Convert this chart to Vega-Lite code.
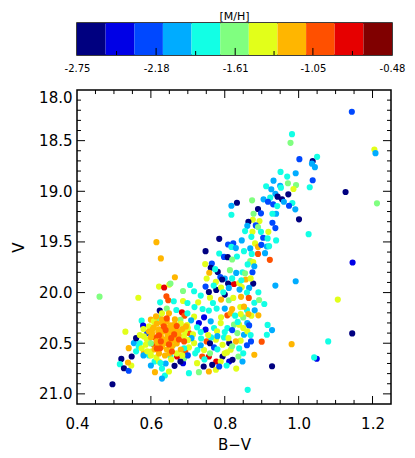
{
"$schema":"https://vega.github.io/schema/vega-lite/v6.json",
"padding":{"left":10,"top":10,"right":5,"bottom":5},
"config":{"view":{"stroke":"black","strokeWidth":1.5},"font":"DejaVu Sans","axis":{"labelFont":"DejaVu Sans","titleFont":"DejaVu Sans","labelFontSize":15,"titleFontSize":15,"titleFontWeight":"normal","labelColor":"black","titleColor":"black","tickColor":"black","tickWidth":1,"grid":false,"domain":false,"labelFlush":false}},
"spacing":14,
"datasets":{
"bar":[{"lo":-2.75,"hi":-2.544,"mh":-2.65},{"lo":-2.544,"hi":-2.337,"mh":-2.44},{"lo":-2.337,"hi":-2.131,"mh":-2.23},{"lo":-2.131,"hi":-1.925,"mh":-2.03},{"lo":-1.925,"hi":-1.718,"mh":-1.82},{"lo":-1.718,"hi":-1.512,"mh":-1.62},{"lo":-1.512,"hi":-1.305,"mh":-1.41},{"lo":-1.305,"hi":-1.099,"mh":-1.2},{"lo":-1.099,"hi":-0.893,"mh":-1},{"lo":-0.893,"hi":-0.686,"mh":-0.79},{"lo":-0.686,"hi":-0.48,"mh":-0.58}],
"cmaj":[{"t":-2.18},{"t":-1.61},{"t":-1.05}],
"cmin":[{"t":-2.465},{"t":-1.895},{"t":-1.33},{"t":-0.765}],
"xmaj":[{"t":0.6},{"t":0.8},{"t":1.0},{"t":1.2}],
"xmin":[{"t":0.45},{"t":0.5},{"t":0.55},{"t":0.65},{"t":0.7},{"t":0.75},{"t":0.85},{"t":0.9},{"t":0.95},{"t":1.05},{"t":1.1},{"t":1.15}],
"ymaj":[{"t":18.5},{"t":19},{"t":19.5},{"t":20},{"t":20.5},{"t":21}],
"ymin":[{"t":18.1},{"t":18.2},{"t":18.3},{"t":18.4},{"t":18.6},{"t":18.7},{"t":18.8},{"t":18.9},{"t":19.1},{"t":19.2},{"t":19.3},{"t":19.4},{"t":19.6},{"t":19.7},{"t":19.8},{"t":19.9},{"t":20.1},{"t":20.2},{"t":20.3},{"t":20.4},{"t":20.6},{"t":20.7},{"t":20.8},{"t":20.9}],
"pts":[
{"bv":1.144,"V":18.215,"mh":-2.23},{"bv":0.982,"V":18.436,"mh":-1.82},{"bv":0.978,"V":18.522,"mh":-1.62},{"bv":1.205,"V":18.588,"mh":-1.41},{"bv":1.208,"V":18.624,"mh":-2.03},{"bv":1.002,"V":18.683,"mh":-2.23},{"bv":1.038,"V":18.703,"mh":-2.65},{"bv":1.05,"V":18.66,"mh":-1.82},{"bv":1.036,"V":18.727,"mh":-2.03},{"bv":1.044,"V":18.762,"mh":-2.03},
{"bv":0.951,"V":18.809,"mh":-1.82},{"bv":0.992,"V":18.822,"mh":-2.03},{"bv":0.969,"V":18.855,"mh":-1.82},{"bv":0.932,"V":18.895,"mh":-2.03},{"bv":1.038,"V":18.891,"mh":-2.23},{"bv":0.971,"V":18.921,"mh":-1.62},{"bv":0.993,"V":18.938,"mh":-1.62},{"bv":0.95,"V":18.945,"mh":-2.03},{"bv":0.912,"V":18.95,"mh":-1.82},{"bv":1.03,"V":18.96,"mh":-1.82},
{"bv":0.986,"V":18.977,"mh":-1.41},{"bv":0.926,"V":18.98,"mh":-2.03},{"bv":0.952,"V":18.964,"mh":-1.82},{"bv":1.127,"V":19.007,"mh":-2.65},{"bv":0.972,"V":19.03,"mh":-2.65},{"bv":0.937,"V":19.024,"mh":-2.03},{"bv":0.923,"V":19.063,"mh":-1.82},{"bv":0.943,"V":19.053,"mh":-2.65},{"bv":0.905,"V":19.079,"mh":-2.03},{"bv":0.955,"V":19.079,"mh":-2.65},
{"bv":0.874,"V":19.089,"mh":-1.62},{"bv":0.931,"V":19.129,"mh":-2.23},{"bv":0.917,"V":19.103,"mh":-2.23},{"bv":0.96,"V":19.103,"mh":-2.03},{"bv":0.983,"V":19.116,"mh":-1.82},{"bv":0.974,"V":19.143,"mh":-2.23},{"bv":0.942,"V":19.146,"mh":-1.82},{"bv":0.833,"V":19.113,"mh":-2.65},{"bv":0.818,"V":19.143,"mh":-2.03},{"bv":1.212,"V":19.119,"mh":-1.62},
{"bv":0.89,"V":19.175,"mh":-2.65},{"bv":0.898,"V":19.218,"mh":-2.23},{"bv":0.878,"V":19.222,"mh":-1.62},{"bv":0.991,"V":19.178,"mh":-2.03},{"bv":0.939,"V":19.222,"mh":-2.03},{"bv":0.929,"V":19.222,"mh":-1.82},{"bv":0.818,"V":19.232,"mh":-1.82},{"bv":1.001,"V":19.277,"mh":-2.65},{"bv":0.876,"V":19.281,"mh":-1.41},{"bv":0.894,"V":19.294,"mh":-1.41},
{"bv":0.864,"V":19.301,"mh":-2.65},{"bv":0.929,"V":19.311,"mh":-2.23},{"bv":0.884,"V":19.337,"mh":-2.23},{"bv":0.89,"V":19.353,"mh":-1.62},{"bv":0.861,"V":19.341,"mh":-2.03},{"bv":0.937,"V":19.363,"mh":-2.23},{"bv":0.855,"V":19.393,"mh":-1.82},{"bv":0.875,"V":19.4,"mh":-1.41},{"bv":0.898,"V":19.4,"mh":-1.82},{"bv":0.918,"V":19.4,"mh":-1.41},
{"bv":1.027,"V":19.423,"mh":-1.82},{"bv":0.785,"V":19.469,"mh":-2.65},{"bv":0.872,"V":19.45,"mh":-1.82},{"bv":0.904,"V":19.459,"mh":-2.23},{"bv":0.916,"V":19.465,"mh":-1.82},{"bv":0.939,"V":19.485,"mh":-1.82},{"bv":0.846,"V":19.485,"mh":-2.03},{"bv":0.615,"V":19.502,"mh":-1.2},{"bv":0.809,"V":19.525,"mh":-2.23},{"bv":0.823,"V":19.515,"mh":-2.23},
{"bv":0.818,"V":19.549,"mh":-1.82},{"bv":0.83,"V":19.561,"mh":-2.03},{"bv":0.882,"V":19.515,"mh":-1.41},{"bv":0.89,"V":19.549,"mh":-1.2},{"bv":0.869,"V":19.564,"mh":-2.03},{"bv":0.899,"V":19.529,"mh":-2.23},{"bv":0.914,"V":19.545,"mh":-2.03},{"bv":0.748,"V":19.591,"mh":-2.65},{"bv":0.785,"V":19.614,"mh":-1.82},{"bv":0.852,"V":19.591,"mh":-1.82},
{"bv":0.873,"V":19.618,"mh":-1.82},{"bv":0.89,"V":19.618,"mh":-1},{"bv":0.909,"V":19.611,"mh":-2.03},{"bv":0.798,"V":19.648,"mh":-2.23},{"bv":0.808,"V":19.65,"mh":-2.65},{"bv":0.833,"V":19.644,"mh":-1.82},{"bv":0.82,"V":19.673,"mh":-1.62},{"bv":0.627,"V":19.663,"mh":-1.2},{"bv":0.922,"V":19.677,"mh":-1},
{"bv":0.747,"V":19.719,"mh":-1.41},{"bv":0.765,"V":19.713,"mh":-2.23},{"bv":0.762,"V":19.756,"mh":-2.65},{"bv":0.758,"V":19.804,"mh":-1.2},{"bv":0.781,"V":19.796,"mh":-2.65},{"bv":0.814,"V":19.779,"mh":-1.62},{"bv":0.831,"V":19.806,"mh":-2.03},{"bv":0.788,"V":19.846,"mh":-2.23},{"bv":0.776,"V":19.895,"mh":-1.41},{"bv":0.751,"V":19.861,"mh":-1.41},
{"bv":0.8,"V":19.861,"mh":-2.03},{"bv":0.825,"V":19.915,"mh":-0.79},{"bv":0.809,"V":19.911,"mh":-2.65},{"bv":0.839,"V":19.905,"mh":-1.41},{"bv":0.857,"V":19.871,"mh":-1.2},{"bv":0.877,"V":19.911,"mh":-2.65},{"bv":0.848,"V":19.799,"mh":-1.82},{"bv":0.665,"V":19.849,"mh":-1.2},{"bv":0.622,"V":19.941,"mh":-1.41},{"bv":0.636,"V":19.95,"mh":-0.79},
{"bv":0.65,"V":19.921,"mh":-1.41},{"bv":0.706,"V":19.925,"mh":-1.82},{"bv":0.748,"V":19.941,"mh":-2.23},{"bv":0.777,"V":19.974,"mh":-2.65},{"bv":0.811,"V":19.954,"mh":-2.03},{"bv":0.846,"V":19.945,"mh":-1.41},{"bv":0.866,"V":19.954,"mh":-2.03},{"bv":0.937,"V":19.931,"mh":-2.03},{"bv":0.992,"V":19.888,"mh":-2.03},{"bv":0.869,"V":19.69,"mh":-1.62},
{"bv":0.877,"V":19.7,"mh":-1.41},{"bv":0.862,"V":19.722,"mh":-1.82},{"bv":0.88,"V":19.74,"mh":-2.03},{"bv":0.875,"V":19.799,"mh":-2.23},{"bv":0.855,"V":19.809,"mh":-1.62},{"bv":0.793,"V":19.871,"mh":-2.65},{"bv":0.845,"V":19.878,"mh":-1.82},{"bv":0.92,"V":19.542,"mh":-1.82},{"bv":0.653,"V":19.911,"mh":-1.62},{"bv":1.146,"V":19.703,"mh":-2.44},
{"bv":1.106,"V":20.069,"mh":-1.41},{"bv":1.145,"V":20.403,"mh":-2.65},{"bv":1.08,"V":20.482,"mh":-1.82},{"bv":1.049,"V":20.653,"mh":-2.44},{"bv":1.042,"V":20.64,"mh":-1.82},{"bv":0.774,"V":19.769,"mh":-1.82},
{"bv":0.77,"V":19.93,"mh":-1.82},{"bv":0.79,"V":19.95,"mh":-1.41},{"bv":0.82,"V":19.86,"mh":-1.82},{"bv":0.84,"V":19.97,"mh":-2.03},{"bv":0.86,"V":20.0,"mh":-1.82},{"bv":0.8,"V":20.02,"mh":-2.65},{"bv":0.76,"V":20.05,"mh":-1.41},{"bv":0.87,"V":19.86,"mh":-1.41},{"bv":0.88,"V":20.1,"mh":-1.82},{"bv":0.735,"V":20.03,"mh":-1.82},
{"bv":0.687,"V":19.984,"mh":-1.62},{"bv":0.717,"V":19.987,"mh":-1.82},{"bv":0.757,"V":19.994,"mh":-2.65},{"bv":0.796,"V":19.997,"mh":-1.82},{"bv":0.891,"V":19.997,"mh":-1.82},{"bv":0.461,"V":20.04,"mh":-1.62},{"bv":0.566,"V":20.051,"mh":-1.41},{"bv":0.647,"V":20.076,"mh":-1},{"bv":0.625,"V":20.096,"mh":-1.82},{"bv":0.662,"V":20.086,"mh":-1.82},
{"bv":0.687,"V":20.083,"mh":-1.41},{"bv":0.699,"V":20.103,"mh":-1.82},{"bv":0.728,"V":20.096,"mh":-1.41},{"bv":0.768,"V":20.103,"mh":-1.82},{"bv":0.79,"V":20.069,"mh":-1.2},{"bv":0.811,"V":20.076,"mh":-1.62},{"bv":0.823,"V":20.053,"mh":-1.41},{"bv":0.844,"V":20.042,"mh":-1.2},{"bv":0.865,"V":20.053,"mh":-1},{"bv":0.893,"V":20.073,"mh":-1.62},
{"bv":0.907,"V":20.113,"mh":-1.82},{"bv":0.642,"V":20.037,"mh":-1},{"bv":0.643,"V":20.158,"mh":-1.62},{"bv":0.624,"V":20.178,"mh":-2.65},{"bv":0.669,"V":20.172,"mh":-1.82},{"bv":0.684,"V":20.195,"mh":-0.79},{"bv":0.691,"V":20.228,"mh":-1},{"bv":0.718,"V":20.143,"mh":-1.82},{"bv":0.74,"V":20.162,"mh":-1.82},{"bv":0.757,"V":20.178,"mh":-1.82},
{"bv":0.778,"V":20.158,"mh":-1.82},{"bv":0.8,"V":20.158,"mh":-2.03},{"bv":0.82,"V":20.162,"mh":-1.2},{"bv":0.842,"V":20.143,"mh":-1.41},{"bv":0.86,"V":20.172,"mh":-1.82},{"bv":0.881,"V":20.175,"mh":-2.03},{"bv":0.891,"V":20.225,"mh":-1.2},{"bv":0.872,"V":20.228,"mh":-1.41},{"bv":0.85,"V":20.245,"mh":-1.62},{"bv":0.852,"V":20.139,"mh":-1.2},
{"bv":0.864,"V":20.212,"mh":-1.2},{"bv":0.575,"V":20.277,"mh":-1.82},{"bv":0.579,"V":20.327,"mh":-2.44},{"bv":0.6,"V":20.267,"mh":-1.2},{"bv":0.807,"V":20.225,"mh":-1},{"bv":0.73,"V":20.301,"mh":-2.44},{"bv":0.703,"V":20.4,"mh":-1},{"bv":0.531,"V":20.386,"mh":-1.41},{"bv":0.916,"V":20.319,"mh":-1.82},{"bv":0.928,"V":20.37,"mh":-2.03},
{"bv":0.861,"V":20.301,"mh":-2.03},{"bv":0.866,"V":20.324,"mh":-2.23},{"bv":0.914,"V":20.416,"mh":-1.82},{"bv":0.852,"V":20.416,"mh":-2.03},{"bv":0.861,"V":20.383,"mh":-1.41},{"bv":0.843,"V":20.475,"mh":-1.41},{"bv":0.83,"V":20.482,"mh":-1.2},{"bv":0.871,"V":20.482,"mh":-2.23},{"bv":0.9,"V":20.485,"mh":-1},{"bv":0.981,"V":20.509,"mh":-1.2},
{"bv":0.816,"V":20.564,"mh":-1.41},{"bv":0.88,"V":20.614,"mh":-1.2},{"bv":0.837,"V":20.631,"mh":-1.62},{"bv":0.848,"V":20.68,"mh":-2.03},{"bv":0.812,"V":20.68,"mh":-2.44},{"bv":0.928,"V":20.727,"mh":-2.65},{"bv":0.862,"V":20.96,"mh":-1.82},{"bv":0.554,"V":20.499,"mh":-2.03},{"bv":0.567,"V":20.532,"mh":-1.82},{"bv":0.54,"V":20.549,"mh":-1.2},
{"bv":0.581,"V":20.598,"mh":-1.2},{"bv":0.548,"V":20.631,"mh":-2.65},{"bv":0.52,"V":20.655,"mh":-2.65},{"bv":0.516,"V":20.707,"mh":-1.82},{"bv":0.527,"V":20.747,"mh":-2.65},{"bv":0.54,"V":20.772,"mh":-2.23},{"bv":0.547,"V":20.72,"mh":-1.41},{"bv":0.538,"V":20.69,"mh":-1.2},{"bv":0.496,"V":20.905,"mh":-2.65},{"bv":0.611,"V":20.786,"mh":-1.2},
{"bv":0.638,"V":20.819,"mh":-1.82},{"bv":0.649,"V":20.779,"mh":-1.41},{"bv":0.664,"V":20.723,"mh":-2.65},{"bv":0.687,"V":20.697,"mh":-2.44},{"bv":0.703,"V":20.796,"mh":-1.82},{"bv":0.73,"V":20.786,"mh":-1.62},{"bv":0.757,"V":20.779,"mh":-1.2},{"bv":0.777,"V":20.68,"mh":-0.79},{"bv":0.757,"V":20.631,"mh":-0.79},{"bv":0.739,"V":20.631,"mh":-1},
{"bv":0.725,"V":20.697,"mh":-1.41},{"bv":0.743,"V":20.73,"mh":-2.65},{"bv":0.693,"V":20.581,"mh":-1},{"bv":0.671,"V":20.631,"mh":-0.79},{"bv":0.653,"V":20.631,"mh":-1.82},{"bv":0.69,"V":20.648,"mh":-1.62},{"bv":0.751,"V":20.482,"mh":-1},{"bv":0.717,"V":20.499,"mh":-1.41},{"bv":0.611,"V":20.443,"mh":-1},{"bv":0.608,"V":20.515,"mh":-1},
{"bv":0.594,"V":20.482,"mh":-1.82},{"bv":0.586,"V":20.515,"mh":-1.41},{"bv":0.63,"V":20.849,"mh":-2.03},{"bv":0.726,"V":20.568,"mh":-1.82},{"bv":0.744,"V":20.568,"mh":-1.41},{"bv":0.794,"V":20.631,"mh":-2.65},{"bv":0.821,"V":20.663,"mh":-2.65},{"bv":0.776,"V":20.465,"mh":-1.41},{"bv":0.794,"V":20.515,"mh":-1.41},{"bv":0.812,"V":20.499,"mh":-2.65},
{"bv":0.748,"V":20.366,"mh":-2.44},{"bv":0.762,"V":20.284,"mh":-2.03},{"bv":0.771,"V":20.35,"mh":-1.82},{"bv":0.789,"V":20.301,"mh":-1.41},{"bv":0.807,"V":20.35,"mh":-1.82},{"bv":0.825,"V":20.317,"mh":-1.62},{"bv":0.816,"V":20.205,"mh":-1.2},{"bv":0.699,"V":20.205,"mh":-1.82},{"bv":0.717,"V":20.238,"mh":-1.41},{"bv":0.776,"V":20.762,"mh":-1.41},
{"bv":0.789,"V":20.68,"mh":-1.41},{"bv":0.766,"V":20.713,"mh":-2.65},{"bv":0.843,"V":20.212,"mh":-1.41},{"bv":0.828,"V":20.228,"mh":-1.82},{"bv":0.839,"V":20.317,"mh":-1.41},{"bv":0.834,"V":20.4,"mh":-1.62},{"bv":0.709,"V":20.274,"mh":-2.03},{"bv":0.725,"V":20.343,"mh":-1.82},{"bv":0.744,"V":20.244,"mh":-2.44},{"bv":0.763,"V":20.443,"mh":-1.82},
{"bv":0.798,"V":20.443,"mh":-1.82},{"bv":0.839,"V":20.551,"mh":-1.82},{"bv":0.806,"V":20.591,"mh":-1.41},{"bv":0.831,"V":20.75,"mh":-1.41},{"bv":0.736,"V":20.453,"mh":-1.82},{"bv":0.714,"V":20.413,"mh":-1.41},{"bv":0.703,"V":20.541,"mh":-1.41},{"bv":0.771,"V":20.541,"mh":-2.23},{"bv":0.79,"V":20.244,"mh":-1.41},{"bv":0.779,"V":20.383,"mh":-1.41},
{"bv":0.735,"V":20.39,"mh":-1.82},{"bv":0.755,"V":20.42,"mh":-1.41},{"bv":0.78,"V":20.43,"mh":-2.03},{"bv":0.8,"V":20.39,"mh":-1.82},{"bv":0.81,"V":20.45,"mh":-1.41},{"bv":0.82,"V":20.37,"mh":-2.23},{"bv":0.835,"V":20.29,"mh":-1.82},{"bv":0.85,"V":20.35,"mh":-1.41},{"bv":0.87,"V":20.42,"mh":-1.82},{"bv":0.78,"V":20.56,"mh":-1.82},
{"bv":0.8,"V":20.6,"mh":-1.41},{"bv":0.76,"V":20.6,"mh":-1.62},{"bv":0.745,"V":20.66,"mh":-1.82},{"bv":0.805,"V":20.72,"mh":-1.82},{"bv":0.785,"V":20.73,"mh":-2.23},{"bv":0.76,"V":20.5,"mh":-2.65},{"bv":0.735,"V":20.52,"mh":-2.03},{"bv":0.82,"V":20.53,"mh":-1.62},{"bv":0.85,"V":20.6,"mh":-1.82},{"bv":0.86,"V":20.52,"mh":-2.23},
{"bv":0.57,"V":20.5,"mh":-1.82},{"bv":0.595,"V":20.62,"mh":-1.82},{"bv":0.61,"V":20.68,"mh":-1.82},{"bv":0.69,"V":20.55,"mh":-1.82},{"bv":0.72,"V":20.6,"mh":-1.82},{"bv":0.56,"V":20.58,"mh":-1.82},{"bv":0.63,"V":20.75,"mh":-1.82},{"bv":0.58,"V":20.62,"mh":-2.03},{"bv":0.64,"V":20.7,"mh":-2.03},{"bv":0.6,"V":20.72,"mh":-2.03},
{"bv":0.71,"V":20.45,"mh":-2.03},{"bv":0.59,"V":20.4,"mh":-2.23},{"bv":0.7,"V":20.62,"mh":-2.23},{"bv":0.56,"V":20.45,"mh":-2.65},{"bv":0.68,"V":20.68,"mh":-2.65},{"bv":0.66,"V":20.52,"mh":-1.62},{"bv":0.62,"V":20.25,"mh":-1.62},{"bv":0.68,"V":20.27,"mh":-1.62},
{"bv":0.581,"V":20.433,"mh":-1.41},{"bv":0.595,"V":20.334,"mh":-1.41},{"bv":0.608,"V":20.285,"mh":-1.41},{"bv":0.681,"V":20.305,"mh":-1.41},{"bv":0.692,"V":20.384,"mh":-1.41},{"bv":0.67,"V":20.601,"mh":-1.41},{"bv":0.6,"V":20.582,"mh":-1.41},{"bv":0.589,"V":20.463,"mh":-1.41},{"bv":0.622,"V":20.681,"mh":-1.41},{"bv":0.698,"V":20.32,"mh":-1.41},
{"bv":0.63,"V":20.205,"mh":-1.41},{"bv":0.649,"V":20.374,"mh":-1.62},{"bv":0.6,"V":20.502,"mh":-1.62},{"bv":0.626,"V":20.696,"mh":-1.82},
{"bv":0.57,"V":20.42,"mh":-1.41},{"bv":0.575,"V":20.55,"mh":-1.41},{"bv":0.59,"V":20.58,"mh":-1.41},{"bv":0.6,"V":20.62,"mh":-1.41},{"bv":0.69,"V":20.43,"mh":-1.41},{"bv":0.7,"V":20.47,"mh":-1.41},{"bv":0.685,"V":20.62,"mh":-1.41},{"bv":0.58,"V":20.36,"mh":-1.41},{"bv":0.615,"V":20.64,"mh":-1.41},{"bv":0.655,"V":20.66,"mh":-1.41},{"bv":0.7,"V":20.35,"mh":-1.41},
{"bv":0.616,"V":20.305,"mh":-1.2},{"bv":0.63,"V":20.265,"mh":-1.2},{"bv":0.643,"V":20.285,"mh":-1.2},{"bv":0.654,"V":20.324,"mh":-1.2},{"bv":0.622,"V":20.364,"mh":-1.2},{"bv":0.635,"V":20.384,"mh":-1.2},{"bv":0.649,"V":20.403,"mh":-1.2},{"bv":0.663,"V":20.364,"mh":-1.2},{"bv":0.608,"V":20.344,"mh":-1.2},{"bv":0.627,"V":20.433,"mh":-1.2},
{"bv":0.641,"V":20.463,"mh":-1.2},{"bv":0.654,"V":20.482,"mh":-1.2},{"bv":0.668,"V":20.443,"mh":-1.2},{"bv":0.616,"V":20.482,"mh":-1.2},{"bv":0.63,"V":20.532,"mh":-1.2},{"bv":0.643,"V":20.562,"mh":-1.2},{"bv":0.657,"V":20.532,"mh":-1.2},{"bv":0.67,"V":20.502,"mh":-1.2},{"bv":0.603,"V":20.403,"mh":-1.2},{"bv":0.676,"V":20.384,"mh":-1.2},
{"bv":0.665,"V":20.265,"mh":-1.2},{"bv":0.649,"V":20.205,"mh":-1.2},{"bv":0.595,"V":20.384,"mh":-1.2},{"bv":0.622,"V":20.601,"mh":-1.2},{"bv":0.638,"V":20.621,"mh":-1.2},{"bv":0.681,"V":20.562,"mh":-1.2},{"bv":0.695,"V":20.334,"mh":-1.2},{"bv":0.614,"V":20.235,"mh":-1.2},
{"bv":0.605,"V":20.36,"mh":-1.2},{"bv":0.62,"V":20.39,"mh":-1.2},{"bv":0.64,"V":20.34,"mh":-1.2},{"bv":0.655,"V":20.35,"mh":-1.2},{"bv":0.66,"V":20.39,"mh":-1.2},{"bv":0.645,"V":20.43,"mh":-1.2},{"bv":0.63,"V":20.46,"mh":-1.2},{"bv":0.66,"V":20.47,"mh":-1.2},{"bv":0.62,"V":20.51,"mh":-1.2},{"bv":0.64,"V":20.5,"mh":-1.2},
{"bv":0.665,"V":20.31,"mh":-1.2},{"bv":0.63,"V":20.3,"mh":-1.2},{"bv":0.6,"V":20.44,"mh":-1.2},{"bv":0.675,"V":20.42,"mh":-1.2},{"bv":0.685,"V":20.36,"mh":-1.2},{"bv":0.61,"V":20.56,"mh":-1.2},{"bv":0.65,"V":20.6,"mh":-1.2},
{"bv":0.635,"V":20.334,"mh":-1},{"bv":0.649,"V":20.512,"mh":-1},{"bv":0.627,"V":20.482,"mh":-1},{"bv":0.663,"V":20.413,"mh":-1},{"bv":0.616,"V":20.552,"mh":-1},{"bv":0.676,"V":20.463,"mh":-1},{"bv":0.643,"V":20.255,"mh":-1},{"bv":0.69,"V":20.482,"mh":-1},{"bv":0.657,"V":20.582,"mh":-1},{"bv":0.622,"V":20.423,"mh":-1},
{"bv":0.64,"V":20.37,"mh":-1},{"bv":0.655,"V":20.45,"mh":-1},{"bv":0.625,"V":20.55,"mh":-1},{"bv":0.67,"V":20.33,"mh":-1}
]},
"vconcat":[
{"width":315,"height":32,
 "title":{"text":"[M/H]","font":"DejaVu Sans","fontSize":11,"fontWeight":"normal","color":"black","offset":1,"anchor":"middle"},
 "layer":[
  {"data":{"name":"bar"},
   "mark":{"type":"rect"},
   "encoding":{
    "x":{"field":"lo","type":"quantitative","scale":{"domain":[-2.75,-0.48],"nice":false,"zero":false},
         "axis":{"orient":"bottom","values":[-2.75,-2.18,-1.61,-1.05,-0.48],"format":".2f","labelExpr":"replace(datum.label, '\u2212', '-')","ticks":false,"labelFontSize":10,"labelPadding":8,"title":null}},
    "x2":{"field":"hi"},
    "y":{"datum":0,"type":"quantitative","scale":{"domain":[0,1],"nice":false,"zero":false},"axis":null},
    "y2":{"datum":1},
    "color":{"field":"mh","type":"quantitative","scale":{"type":"quantize","domain":[-2.75,-0.48],"nice":false,"zero":false,"range":["#000080","#0000e6","#0048ff","#00acff","#12ffe5","#80ff80","#e2ff1a","#ffb600","#ff5000","#e60000","#800000"]},"legend":null}}},
  {"data":{"name":"cmaj"},
   "mark":{"type":"rule","color":"black","strokeWidth":1},
   "encoding":{"x":{"field":"t","type":"quantitative","axis":null},"y":{"datum":0,"type":"quantitative","axis":null},"y2":{"datum":0.22}}},
  {"data":{"name":"cmin"},
   "mark":{"type":"rule","color":"black","strokeWidth":1},
   "encoding":{"x":{"field":"t","type":"quantitative","axis":null},"y":{"datum":0,"type":"quantitative","axis":null},"y2":{"datum":0.125}}}
 ],
 "resolve":{"axis":{"x":"independent","y":"independent"}}
},
{"width":314,"height":314,
 "layer":[
  {"data":{"name":"pts"},
   "mark":{"type":"circle","size":38,"opacity":1},
   "encoding":{
    "x":{"field":"bv","type":"quantitative","scale":{"domain":[0.4,1.25],"nice":false,"zero":false},
         "axis":{"orient":"bottom","values":[0.4,0.6,0.8,1.0,1.2],"format":".1f","ticks":false,"labelPadding":12,"title":"B\u2212V","titlePadding":6}},
    "y":{"field":"V","type":"quantitative","scale":{"domain":[18,21.1],"reverse":true,"nice":false,"zero":false},
         "axis":{"orient":"left","values":[18,18.5,19,19.5,20,20.5,21],"format":".1f","ticks":false,"labelPadding":5,"labelFlush":true,"title":"V","titlePadding":12}},
    "color":{"field":"mh","type":"quantitative","scale":{"type":"quantize","domain":[-2.75,-0.48],"nice":false,"zero":false,"range":["#000080","#0000e6","#0048ff","#00acff","#12ffe5","#80ff80","#e2ff1a","#ffb600","#ff5000","#e60000","#800000"]},"legend":null}}},
  {"data":{"name":"xmaj"},"mark":{"type":"rule","color":"black","strokeWidth":1},
   "encoding":{"x":{"field":"t","type":"quantitative","axis":null},"y":{"datum":21.1,"type":"quantitative","axis":null},"y2":{"datum":21.021}}},
  {"data":{"name":"xmaj"},"mark":{"type":"rule","color":"black","strokeWidth":1},
   "encoding":{"x":{"field":"t","type":"quantitative","axis":null},"y":{"datum":18,"type":"quantitative","axis":null},"y2":{"datum":18.079}}},
  {"data":{"name":"xmin"},"mark":{"type":"rule","color":"black","strokeWidth":1},
   "encoding":{"x":{"field":"t","type":"quantitative","axis":null},"y":{"datum":21.1,"type":"quantitative","axis":null},"y2":{"datum":21.06}}},
  {"data":{"name":"xmin"},"mark":{"type":"rule","color":"black","strokeWidth":1},
   "encoding":{"x":{"field":"t","type":"quantitative","axis":null},"y":{"datum":18,"type":"quantitative","axis":null},"y2":{"datum":18.04}}},
  {"data":{"name":"ymaj"},"mark":{"type":"rule","color":"black","strokeWidth":1},
   "encoding":{"y":{"field":"t","type":"quantitative","axis":null},"x":{"datum":0.4,"type":"quantitative","axis":null},"x2":{"datum":0.4217}}},
  {"data":{"name":"ymaj"},"mark":{"type":"rule","color":"black","strokeWidth":1},
   "encoding":{"y":{"field":"t","type":"quantitative","axis":null},"x":{"datum":1.25,"type":"quantitative","axis":null},"x2":{"datum":1.2283}}},
  {"data":{"name":"ymin"},"mark":{"type":"rule","color":"black","strokeWidth":1},
   "encoding":{"y":{"field":"t","type":"quantitative","axis":null},"x":{"datum":0.4,"type":"quantitative","axis":null},"x2":{"datum":0.4108}}},
  {"data":{"name":"ymin"},"mark":{"type":"rule","color":"black","strokeWidth":1},
   "encoding":{"y":{"field":"t","type":"quantitative","axis":null},"x":{"datum":1.25,"type":"quantitative","axis":null},"x2":{"datum":1.2392}}}
 ],
 "resolve":{"axis":{"x":"independent","y":"independent"}}
}
]
}
